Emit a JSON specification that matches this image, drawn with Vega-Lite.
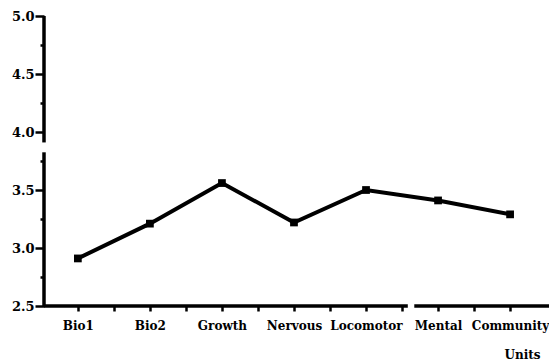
{
  "$schema": "https://vega.github.io/schema/vega-lite/v6.json",
  "width": 505,
  "height": 290,
  "autosize": "none",
  "padding": {"left": 44, "top": 16, "right": 0, "bottom": 57},
  "config": {
    "view": {"stroke": null},
    "font": "DejaVu Serif"
  },
  "datasets": {
    "scores": [
      {"unit": "Bio1", "pos": 1, "score": 2.91},
      {"unit": "Bio2", "pos": 2, "score": 3.21},
      {"unit": "Growth", "pos": 3, "score": 3.56},
      {"unit": "Nervous", "pos": 4, "score": 3.22},
      {"unit": "Locomotor", "pos": 5, "score": 3.5},
      {"unit": "Mental", "pos": 6, "score": 3.41},
      {"unit": "Community", "pos": 7, "score": 3.29}
    ],
    "axislines": [
      {"x": 0.53, "x2": 0.53, "y": 2.5, "y2": 3.825},
      {"x": 0.53, "x2": 0.53, "y": 3.91, "y2": 5.0},
      {"x": 0.53, "x2": 5.58, "y": 2.5, "y2": 2.5},
      {"x": 5.67, "x2": 7.54, "y": 2.5, "y2": 2.5}
    ]
  },
  "layer": [
    {
      "data": {"name": "axislines"},
      "mark": {"type": "rule", "color": "black", "strokeWidth": 3.5},
      "encoding": {
        "x": {"field": "x", "type": "quantitative"},
        "x2": {"field": "x2"},
        "y": {"field": "y", "type": "quantitative"},
        "y2": {"field": "y2"}
      }
    },
    {
      "data": {"name": "scores"},
      "mark": {"type": "line", "color": "black", "strokeWidth": 4},
      "encoding": {
        "x": {"field": "pos", "type": "quantitative"},
        "y": {"field": "score", "type": "quantitative"}
      }
    },
    {
      "data": {"name": "scores"},
      "mark": {"type": "point", "shape": "square", "filled": true, "color": "black", "size": 60, "opacity": 1},
      "encoding": {
        "x": {"field": "pos", "type": "quantitative"},
        "y": {"field": "score", "type": "quantitative"}
      }
    }
  ],
  "encoding": {
    "x": {
      "type": "quantitative",
      "scale": {"domain": [0.53, 7.54], "nice": false, "zero": false},
      "axis": {
        "title": "Units",
        "titleFont": "DejaVu Serif",
        "titleFontSize": 12,
        "titleFontWeight": "bold",
        "titleColor": "black",
        "titleAnchor": "end",
        "titleAlign": "right",
        "titleBaseline": "middle",
        "titleX": 496,
        "titleY": 48,
        "domain": false,
        "grid": false,
        "values": [1, 1.5, 2, 2.5, 3, 3.5, 4, 4.5, 5, 5.5, 6, 6.5, 7],
        "labelExpr": "datum.value % 1 === 0 ? ['Bio1','Bio2','Growth','Nervous','Locomotor','Mental','Community'][datum.value - 1] : ''",
        "labelFont": "DejaVu Serif",
        "labelFontSize": 12,
        "labelFontWeight": "bold",
        "labelColor": "black",
        "labelPadding": 9,
        "labelOverlap": false,
        "labelFlush": false,
        "tickSize": 5,
        "tickWidth": 2.5,
        "tickColor": "black"
      }
    },
    "y": {
      "type": "quantitative",
      "scale": {"domain": [2.5, 5.0], "nice": false, "zero": false},
      "axis": {
        "title": null,
        "domain": false,
        "grid": false,
        "values": [2.5, 2.75, 3.0, 3.25, 3.5, 3.75, 4.0, 4.25, 4.5, 4.75, 5.0],
        "labelExpr": "datum.value % 0.5 === 0 ? format(datum.value, '.1f') : ''",
        "labelFont": "DejaVu Serif",
        "labelFontSize": 13,
        "labelFontWeight": "bold",
        "labelColor": "black",
        "labelPadding": 1,
        "tickSize": {"condition": {"test": "datum.value % 0.5 === 0", "value": 9}, "value": 4},
        "tickWidth": 2.5,
        "tickColor": "black"
      }
    }
  }
}
